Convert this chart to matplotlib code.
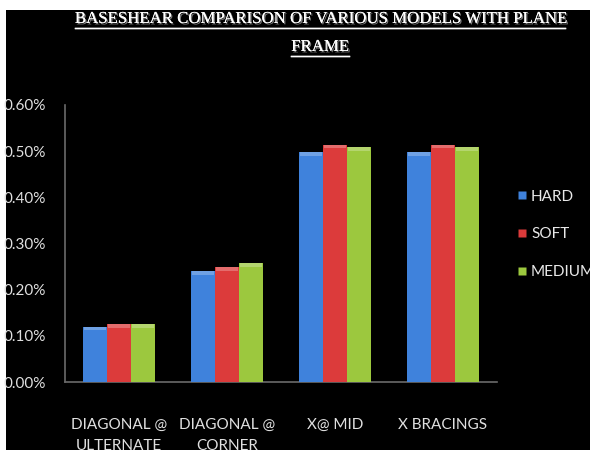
import matplotlib

matplotlib.use("Agg")
import matplotlib.pyplot as plt
import matplotlib.patheffects as pe
import numpy as np
from matplotlib.lines import Line2D
from matplotlib.patches import Rectangle
from matplotlib.ticker import FuncFormatter, MultipleLocator

# base shear (% of seismic weight) for each bracing arrangement
categories = ["DIAGONAL @\nULTERNATE", "DIAGONAL @\nCORNER", "X@ MID", "X BRACINGS"]
hard = [0.120, 0.240, 0.498, 0.498]
soft = [0.126, 0.249, 0.514, 0.514]
medium = [0.126, 0.257, 0.508, 0.508]
series_names = ["HARD", "SOFT", "MEDIUM"]
series_colors = ["#3f82dc", "#dc3b3b", "#9cc83e"]

title_lines = ["BASESHEAR COMPARISON OF VARIOUS MODELS WITH PLANE", "FRAME"]

fig = plt.figure(figsize=(5.9, 4.5), dpi=100, facecolor="black")

# thin white margin along the top and left edges
for rect in [(0, 1 - 10 / 450, 1, 10 / 450), (0, 0, 6 / 590, 1)]:
    fig.patches.append(
        Rectangle(rect[:2], rect[2], rect[3], transform=fig.transFigure,
                  facecolor="white", edgecolor="none", zorder=-5)
    )

ax = fig.add_axes([65 / 590, 1 - 382 / 450, 432 / 590, 277 / 450])
ax.set_facecolor("black")

x = np.arange(len(categories))
width = 0.222
for i, (vals, color) in enumerate(zip([hard, soft, medium], series_colors)):
    ax.bar(x + (i - 1) * width, vals, width=width, color=color,
           edgecolor="none", zorder=3)
    # light sheen along the top of each bar
    ax.bar(x + (i - 1) * width, [0.008] * len(vals), bottom=np.array(vals) - 0.008,
           width=width * 0.9, color="white", alpha=0.25, edgecolor="none", zorder=4)

ax.set_xlim(-0.5, len(categories) - 0.5)
ax.set_ylim(0, 0.6)
ax.yaxis.set_major_locator(MultipleLocator(0.1))
ax.yaxis.set_major_formatter(FuncFormatter(lambda v, _: f"{v:.2f}%"))
ax.set_xticks(x, categories)

font = ["Lato", "DejaVu Sans"]
ax.tick_params(axis="y", length=0, pad=14, labelcolor="#e0e0e0", labelsize=11)
ax.tick_params(axis="x", length=0, pad=26, labelcolor="#e0e0e0", labelsize=11)
for lbl in ax.get_xticklabels() + ax.get_yticklabels():
    lbl.set_family(font)
for lbl in ax.get_xticklabels():
    lbl.set_linespacing(1.6)
    lbl.set_verticalalignment("top")

for side in ("top", "right"):
    ax.spines[side].set_visible(False)
for side in ("left", "bottom"):
    ax.spines[side].set_color("#6a6a6a")
    ax.spines[side].set_linewidth(1.2)

handles = [
    Line2D([], [], marker="s", linestyle="none", markersize=6,
           markerfacecolor=c, markeredgecolor="none")
    for c in series_colors
]
leg = fig.legend(handles, series_names, loc="upper left",
                 bbox_to_anchor=(502 / 590, 1 - 176 / 450), frameon=False,
                 handlelength=0.8, handletextpad=0.2, labelspacing=1.55,
                 prop={"family": font, "size": 11})
for t in leg.get_texts():
    t.set_color("#e8e8e8")

# underlined serif title with a soft grey shadow
shadow = [pe.withSimplePatchShadow(offset=(1, -1), shadow_rgbFace="#888888", alpha=0.9),
          pe.Normal()]
title_y = [1 - 19 / 450, 1 - 47 / 450]
fig.canvas.draw()
renderer = fig.canvas.get_renderer()
for line, ty in zip(title_lines, title_y):
    t = fig.text(320 / 590, ty, line, ha="center", va="center", color="white",
                 family=["Liberation Serif", "DejaVu Serif"], fontsize=12.1,
                 path_effects=shadow)
    bb = t.get_window_extent(renderer=renderer).transformed(fig.transFigure.inverted())
    uy = bb.y0 - 1 / 450
    fig.add_artist(Line2D([bb.x0, bb.x1], [uy, uy], transform=fig.transFigure,
                          color="white", linewidth=1.0,
                          path_effects=[pe.withSimplePatchShadow(offset=(1, -1),
                                                                 shadow_rgbFace="#888888"),
                                        pe.Normal()]))

fig.savefig("out.png", dpi=100, facecolor=fig.get_facecolor())
